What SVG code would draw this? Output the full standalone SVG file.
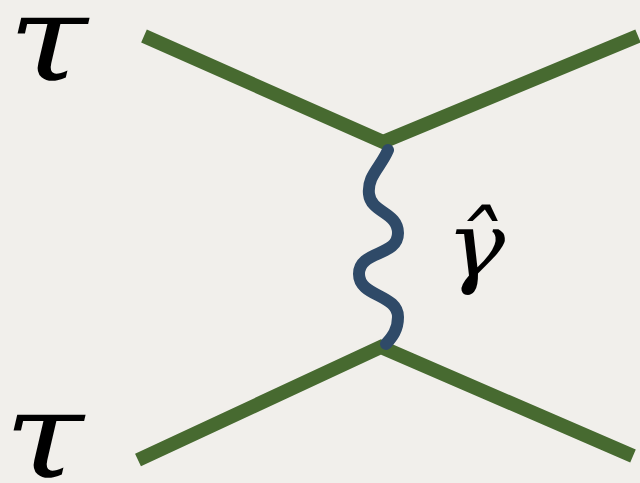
<svg xmlns="http://www.w3.org/2000/svg" width="640" height="483" viewBox="0 0 640 483">
<style>
.fermion{fill:none;stroke:#476a30;stroke-width:14;stroke-linejoin:miter}
.photon{fill:none;stroke:#2f4a68;stroke-width:12;stroke-linecap:round}
.lbl{font-family:"DejaVu Serif","Liberation Serif",serif;font-style:italic;fill:#000}
</style>
<rect width="640" height="483" fill="#f1efeb"/>
<g id="connectors">
<polyline class="fermion" points="144,36 383,142 638,36"/>
<polyline class="fermion" points="138,460 381,347 633,456"/>
<path class="photon" d="M 388 150 C 381 167, 367 176, 369 194 C 371 213, 398 212, 398 233 C 398 257, 359 250, 359 274 C 359 297, 398 294, 398 317 C 398 331, 391 338, 386 344"/>
</g>
<g id="tau-top"><text class="lbl" font-size="120" transform="translate(8,80) scale(1.2,1)">τ</text></g>
<g id="tau-bottom"><text class="lbl" font-size="120" transform="translate(4,477) scale(1.2,1)">τ</text></g>
<g id="gamma"><text class="lbl" font-size="90" transform="translate(446,276) scale(1.1,1)">γ̂</text></g>
</svg>
